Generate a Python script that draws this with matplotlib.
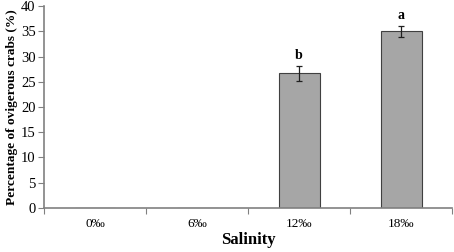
import matplotlib
matplotlib.use("Agg")
import matplotlib.pyplot as plt

categories = ["0‰", "6‰", "12‰", "18‰"]
values = [0, 0, 26.7, 35.0]
errors = [0, 0, 1.5, 1.1]
letters = ["", "", "b", "a"]

plt.rcParams['font.family'] = ['Liberation Serif', 'DejaVu Serif']

fig = plt.figure(figsize=(4.54, 2.52), dpi=100)
ax = fig.add_axes([0.097, 0.175, 0.899, 0.801])

x = range(len(categories))
ax.bar(x, values, width=0.4, color="#a6a6a6", edgecolor="#404040", linewidth=0.8)
for i in x:
    if values[i] > 0:
        ax.errorbar(i, values[i], yerr=errors[i], fmt="none", ecolor="#202020",
                    elinewidth=0.9, capsize=2.5, capthick=0.9)
        ax.text(i, values[i] + errors[i] + 0.8, letters[i], ha="center", va="bottom",
                fontsize=10, fontweight="bold")

ax.set_xlim(-0.5, 3.5)
ax.set_ylim(0, 40)
ax.set_yticks(range(0, 41, 5))
ax.set_xticks([i - 0.5 for i in range(5)], minor=False)
ax.set_xticklabels([])
ax.set_xticks(list(x), minor=True)
ax.set_xticklabels(categories, minor=True, fontsize=9.5)
ax.tick_params(axis="x", which="minor", length=0, pad=7)
ax.tick_params(axis="x", which="major", length=4, direction="out", color="#808080")
ax.tick_params(axis="y", length=4, direction="out", color="#808080", labelsize=10.5, pad=2)

for s in ["top", "right"]:
    ax.spines[s].set_visible(False)
for s in ["left", "bottom"]:
    ax.spines[s].set_color("#808080")
    ax.spines[s].set_linewidth(1.2)

ax.set_ylabel("Percentage of ovigerous crabs (%)", fontsize=9.6, fontweight="bold", labelpad=2)
ax.set_xlabel("Salinity", fontsize=12, fontweight="bold", labelpad=2)

fig.savefig("out.png", dpi=100)
